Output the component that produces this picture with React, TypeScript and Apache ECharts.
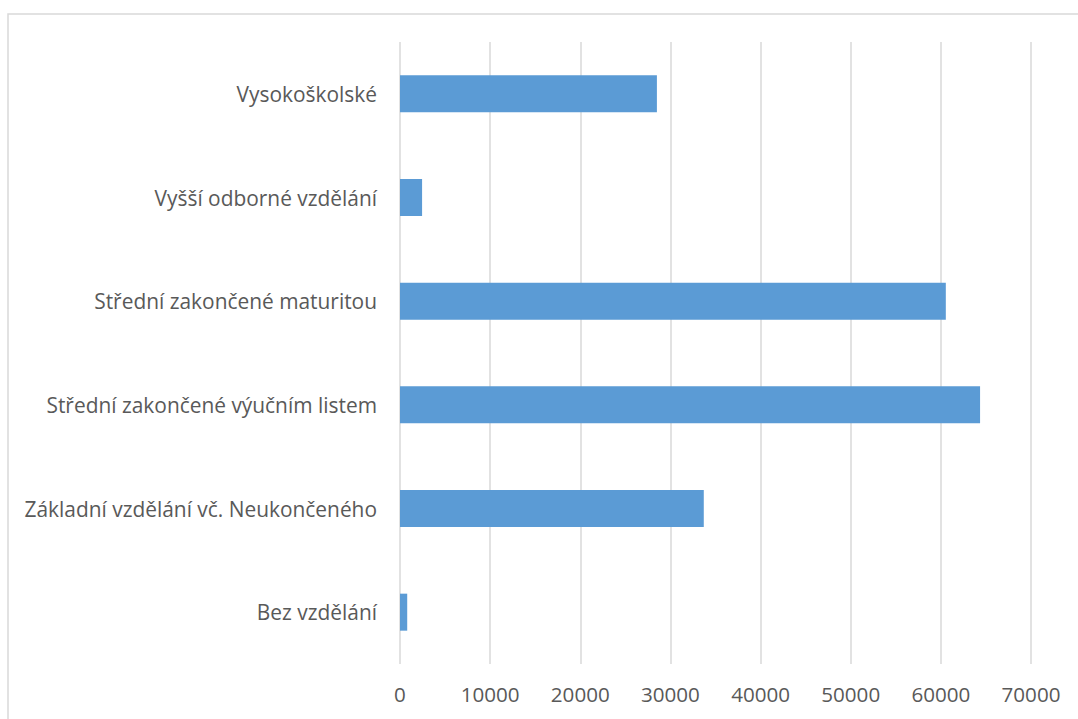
import React, { useEffect, useRef } from "react";
import * as echarts from "echarts";

const categories = [
  "Bez vzdělání",
  "Základní vzdělání vč. Neukončeného",
  "Střední zakončené výučním listem",
  "Střední zakončené maturitou",
  "Vyšší odborné vzdělání",
  "Vysokoškolské",
];
const values = [800, 33700, 64350, 60550, 2450, 28500];
const xMin = 0;
const xMax = 70000;
const xInterval = 10000;

export default function App() {
  const ref = useRef<HTMLDivElement>(null);
  useEffect(() => {
    if (!ref.current) return;
    const chart = echarts.init(ref.current, null, { renderer: "svg" });
    const font = "'Open Sans', 'Noto Sans', sans-serif";
    chart.setOption({
      animation: false,
      backgroundColor: "#ffffff",
      graphic: [
        {
          type: "rect",
          shape: { x: 8, y: 14, width: 1100, height: 800 },
          style: { fill: "none", stroke: "#d9d9d9", lineWidth: 1.5 },
          silent: true,
        },
      ],
      grid: { left: 400, right: 47, top: 42, bottom: 55 },
      xAxis: {
        type: "value",
        min: xMin,
        max: xMax,
        interval: xInterval,
        axisLine: { show: false },
        axisTick: { show: false },
        axisLabel: {
          color: "#595959",
          fontSize: 20.6,
          fontFamily: font,
          margin: 19,
          formatter: (v: number) => String(v),
        },
        splitLine: { show: true, lineStyle: { color: "#d9d9d9", width: 1.5 } },
      },
      yAxis: {
        type: "category",
        data: categories,
        axisLine: { show: false },
        axisTick: { show: false },
        axisLabel: { color: "#595959", fontSize: 20.9, fontFamily: font, margin: 23 },
        splitLine: { show: false },
      },
      series: [
        {
          type: "bar",
          data: values,
          barWidth: 37,
          itemStyle: { color: "#5b9bd5" },
        },
      ],
    });
    return () => chart.dispose();
  }, []);
  return (
    <div
      ref={ref}
      style={{ position: "fixed", left: 0, top: 0, width: 1078, height: 719 }}
    />
  );
}
